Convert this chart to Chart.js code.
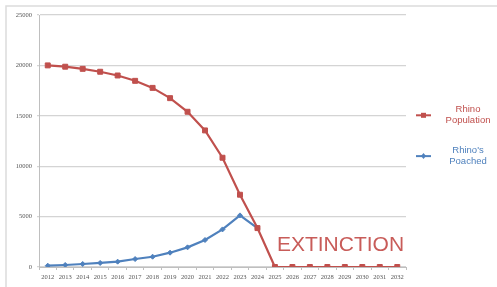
<!DOCTYPE html>
<html lang="en">
<head>
<meta charset="UTF-8">
<title>Rhino Population vs Poaching</title>
<script src="https://cdn.jsdelivr.net/npm/chart.js@4.4.0/dist/chart.umd.min.js"></script>
<style>
  * { margin: 0; padding: 0; box-sizing: border-box; }
  body { width: 497px; height: 287px; background: #ffffff; overflow: hidden; }
  .wrap { position: relative; width: 497px; height: 287px; }
</style>
</head>
<body>
<div class="wrap">
  <canvas id="rhinoChart" width="497" height="287"></canvas>
</div>
<script>
/* ---------- data ---------- */
const years = ['2012', '2013', '2014', '2015', '2016', '2017', '2018', '2019', '2020', '2021', '2022',
  '2023', '2024', '2025', '2026', '2027', '2028', '2029', '2030', '2031', '2032'];
const rhinoPopulation = [20000, 19870, 19660, 19370, 19000, 18470, 17770, 16750, 15400, 13550, 10840,
  7170, 3860, 0, 0, 0, 0, 0, 0, 0, 0];
const rhinosPoached = [130, 200, 300, 400, 530, 790, 1020, 1420, 1950, 2680, 3730,
  5120, 3860, null, null, null, null, null, null, null, null];
const seriesNames = [['Rhino', 'Population'], ["Rhino's", 'Poached']];
const yTicks = [0, 5000, 10000, 15000, 20000, 25000];
const noteText = 'EXTINCTION';

const redColor = '#c0504d';
const blueColor = '#4f81bd';
const gridColor = '#d4d4d4';

/* ---------- frame, note and side legend ---------- */
const decorations = {
  id: 'decorations',
  beforeDraw(chart) {
    const ctx = chart.ctx;
    ctx.save();
    ctx.strokeStyle = '#dcdcdc';
    ctx.lineWidth = 1.5;
    ctx.beginPath();
    ctx.moveTo(6, 290);
    ctx.lineTo(6, 6);
    ctx.lineTo(500, 6);
    ctx.stroke();
    ctx.restore();
  },
  afterDraw(chart) {
    const ctx = chart.ctx;
    const x = chart.scales.x, y = chart.scales.y;
    const area = chart.chartArea;
    ctx.save();
    // extinction note
    ctx.fillStyle = '#c85c59';
    ctx.font = '21px "Liberation Sans", Arial, sans-serif';
    ctx.textAlign = 'left';
    ctx.textBaseline = 'alphabetic';
    ctx.fillText(noteText, x.getPixelForValue(13) + 2, y.getPixelForValue(1600));

    // legend, two lines per entry
    const rows = [y.getPixelForValue(15000) - 0.5, y.getPixelForValue(11000)];
    chart.data.datasets.forEach((ds, i) => {
      const cy = rows[i];
      const lx = area.right + 10;
      ctx.strokeStyle = ds.borderColor;
      ctx.lineWidth = 2;
      ctx.beginPath();
      ctx.moveTo(lx, cy);
      ctx.lineTo(lx + 15, cy);
      ctx.stroke();
      ctx.fillStyle = ds.borderColor;
      if (ds.pointStyle === 'rect') {
        ctx.fillRect(lx + 5, cy - 2.5, 5, 5);
      } else {
        ctx.beginPath();
        ctx.moveTo(lx + 7.5, cy - 3);
        ctx.lineTo(lx + 10, cy);
        ctx.lineTo(lx + 7.5, cy + 3);
        ctx.lineTo(lx + 5, cy);
        ctx.closePath();
        ctx.fill();
      }
      ctx.fillStyle = ds.borderColor;
      ctx.font = '9.5px "Liberation Sans", Arial, sans-serif';
      ctx.textAlign = 'center';
      ctx.textBaseline = 'middle';
      const tx = area.right + 62;
      ctx.fillText(seriesNames[i][0], tx, cy - 5.5);
      ctx.fillText(seriesNames[i][1], tx, cy + 5.5);
    });
    ctx.restore();
  }
};

new Chart(document.getElementById('rhinoChart'), {
  type: 'line',
  data: {
    labels: years,
    datasets: [
      {
        label: 'Rhino Population',
        data: rhinoPopulation,
        borderColor: redColor,
        backgroundColor: redColor,
        borderWidth: 2.2,
        pointStyle: 'rect',
        pointRadius: 3.5,
        pointBorderWidth: 1,
        tension: 0
      },
      {
        label: "Rhino's Poached",
        data: rhinosPoached,
        borderColor: blueColor,
        backgroundColor: blueColor,
        borderWidth: 2.2,
        pointStyle: 'rectRot',
        pointRadius: 2.5,
        pointBorderWidth: 1,
        tension: 0
      }
    ]
  },
  options: {
    responsive: false,
    animation: false,
    layout: { padding: { left: 0, top: 15, right: 91, bottom: 0 } },
    plugins: {
      legend: { display: false },
      tooltip: { enabled: false }
    },
    scales: {
      x: {
        offset: true,
        grid: {
          offset: true,
          drawOnChartArea: false,
          drawTicks: true,
          tickLength: 3,
          color: '#bfbfbf'
        },
        border: { color: '#bfbfbf', width: 1 },
        ticks: {
          autoSkip: false,
          maxRotation: 0,
          padding: 3,
          color: '#555555',
          font: { family: '"Liberation Serif", "Times New Roman", serif', size: 6.5 }
        },
        afterFit(scale) { scale.height = 20; }
      },
      y: {
        min: 0,
        max: 25000,
        afterBuildTicks(scale) { scale.ticks = yTicks.map(v => ({ value: v })); },
        grid: { color: gridColor, lineWidth: 1.2, drawTicks: true, tickLength: 2 },
        border: { color: '#bfbfbf', width: 1 },
        ticks: {
          padding: 5,
          color: '#555555',
          font: { family: '"Liberation Serif", "Times New Roman", serif', size: 6.5 },
          callback: v => String(v)
        },
        afterFit(scale) { scale.width = 39; }
      }
    }
  },
  plugins: [decorations]
});
</script>
</body>
</html>
